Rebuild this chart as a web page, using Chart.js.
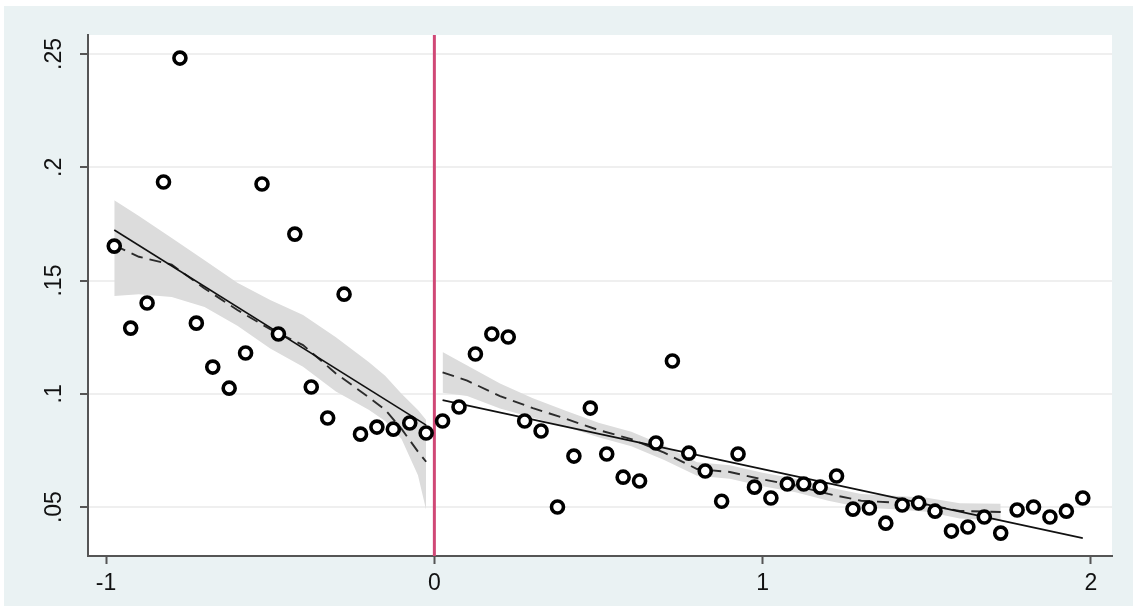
<!DOCTYPE html>
<html>
<head>
<meta charset="utf-8">
<script src="https://cdn.jsdelivr.net/npm/chart.js@4/dist/chart.umd.min.js"></script>
<style>
  html, body { margin: 0; padding: 0; background: #fff; }
  #wrap { position: absolute; left: 4px; top: 6px; width: 1129px; height: 600px; }
</style>
</head>
<body>
<div id="wrap"><canvas id="chart" width="1129" height="600"></canvas></div>
<script>
// bin centres and bin means, left of the cutoff
const leftX = [-0.975, -0.925, -0.875, -0.825, -0.775, -0.725, -0.675, -0.625, -0.575, -0.525,
               -0.475, -0.425, -0.375, -0.325, -0.275, -0.225, -0.175, -0.125, -0.075, -0.025]
const leftY = [0.1652, 0.1290, 0.1401, 0.1935, 0.2482, 0.1312, 0.1118, 0.1025, 0.1180, 0.1926,
               0.1264, 0.1705, 0.1030, 0.0893, 0.1440, 0.0822, 0.0853, 0.0844, 0.0871, 0.0827]

// right of the cutoff
const rightX = [0.025, 0.075, 0.125, 0.175, 0.225, 0.275, 0.325, 0.375, 0.425, 0.475,
                0.525, 0.575, 0.625, 0.675, 0.725, 0.775, 0.825, 0.875, 0.925, 0.975,
                1.025, 1.075, 1.125, 1.175, 1.225, 1.275, 1.325, 1.375, 1.425, 1.475,
                1.525, 1.575, 1.625, 1.675, 1.725, 1.775, 1.825, 1.875, 1.925, 1.975]
const rightY = [0.0880, 0.0942, 0.1176, 0.1264, 0.1251, 0.0880, 0.0836, 0.0500, 0.0725, 0.0937,
                0.0734, 0.0632, 0.0615, 0.0783, 0.1145, 0.0738, 0.0659, 0.0526, 0.0734, 0.0588,
                0.0540, 0.0602, 0.0602, 0.0588, 0.0637, 0.0491, 0.0496, 0.0429, 0.0509, 0.0518,
                0.0482, 0.0394, 0.0412, 0.0456, 0.0385, 0.0487, 0.0500, 0.0456, 0.0482, 0.0540]

// linear fits (end points)
const fitLeftX = [-0.975, -0.025]
const fitLeftY = [0.1723, 0.0862]
const fitRightX = [0.025, 1.975]
const fitRightY = [0.0972, 0.0363]

// local polynomial + CI, left
const lpLeftX = [-0.975, -0.9, -0.8, -0.7, -0.6, -0.5, -0.4, -0.3, -0.2, -0.15, -0.1, -0.05, -0.025]
const lpLeftY = [0.1655, 0.1605, 0.1570, 0.1465, 0.1370, 0.1285, 0.1215, 0.1090, 0.0985, 0.0930, 0.0845, 0.0745, 0.0700]
const ciLeftHi = [0.1855, 0.1785, 0.1688, 0.1590, 0.1490, 0.1414, 0.1348, 0.1250, 0.1140, 0.1080, 0.1000, 0.0928, 0.0884]
const ciLeftLo = [0.1432, 0.1440, 0.1427, 0.1383, 0.1300, 0.1200, 0.1120, 0.1010, 0.0930, 0.0880, 0.0800, 0.0640, 0.0487]

// local polynomial + CI, right
const lpRightX = [0.025, 0.1, 0.2, 0.3, 0.4, 0.5, 0.6, 0.7, 0.8, 0.9, 1.0, 1.1, 1.2, 1.3, 1.4, 1.5, 1.6, 1.725]
const lpRightY = [0.1095, 0.1058, 0.0990, 0.0937, 0.0890, 0.0840, 0.0800, 0.0740, 0.0668, 0.0655, 0.0622, 0.0595, 0.0558, 0.0528, 0.0520, 0.0510, 0.0483, 0.0478]
const ciRightHi = [0.1185, 0.1125, 0.1045, 0.0980, 0.0925, 0.0872, 0.0832, 0.0772, 0.0698, 0.0685, 0.0652, 0.0625, 0.0588, 0.0558, 0.0550, 0.0541, 0.0517, 0.0515]
const ciRightLo = [0.1005, 0.0990, 0.0935, 0.0894, 0.0855, 0.0808, 0.0768, 0.0708, 0.0638, 0.0625, 0.0592, 0.0565, 0.0528, 0.0498, 0.0490, 0.0479, 0.0449, 0.0441]

const xTicks = [-1, 0, 1, 2]
const yTicks = [0.05, 0.1, 0.15, 0.2, 0.25]
const cutoff = 0

const pts = (xs, ys) => xs.map((x, i) => ({x: x, y: ys[i]}))

const axisColor = '#555'
const font = {family: "'Liberation Sans', Arial, sans-serif", size: 23}

function band(xs, hi, lo){
    return [
        {type: 'line', data: pts(xs, hi), showLine: true, borderWidth: 0, pointRadius: 0,
         backgroundColor: '#dcdcdc', fill: '+1', order: 5},
        {type: 'line', data: pts(xs, lo), showLine: true, borderWidth: 0, pointRadius: 0,
         backgroundColor: '#dcdcdc', fill: false, order: 5}
    ]
}
function lpoly(xs, ys){
    return {type: 'line', data: pts(xs, ys), showLine: true, borderColor: '#2b2b2b', borderWidth: 1.9,
            borderDash: [12, 7], pointRadius: 0, fill: false, order: 3}
}
function lfit(xs, ys){
    return {type: 'line', data: pts(xs, ys), showLine: true, borderColor: '#111', borderWidth: 1.6,
            pointRadius: 0, fill: false, order: 2}
}
function scat(xs, ys){
    return {type: 'scatter', data: pts(xs, ys), pointRadius: 6, pointBorderWidth: 3.6,
            pointBorderColor: '#000', pointBackgroundColor: '#fff', order: 1}
}

// bluish outer region + white plot region
const bgPlugin = {
    id: 'bg',
    beforeDraw(chart){
        const c = chart.ctx, a = chart.chartArea
        c.save()
        c.fillStyle = '#eaf2f3'
        c.fillRect(0, 0, chart.width, chart.height)
        c.fillStyle = '#fff'
        c.fillRect(a.left, a.top, a.right - a.left, a.bottom - a.top)
        c.restore()
    }
}

// vertical line at the cutoff
const cutoffPlugin = {
    id: 'cutoff',
    beforeDatasetsDraw(chart){
        const c = chart.ctx, a = chart.chartArea
        const px = chart.scales.x.getPixelForValue(cutoff)
        c.save()
        c.strokeStyle = '#d04876'
        c.lineWidth = 3
        c.beginPath()
        c.moveTo(px, a.top)
        c.lineTo(px, a.bottom)
        c.stroke()
        c.restore()
    }
}

const config = {
    type: 'scatter',
    data: {
        datasets: [
            scat(leftX, leftY),
            scat(rightX, rightY),
            lfit(fitLeftX, fitLeftY),
            lfit(fitRightX, fitRightY),
            lpoly(lpLeftX, lpLeftY),
            lpoly(lpRightX, lpRightY),
            ...band(lpLeftX, ciLeftHi, ciLeftLo),
            ...band(lpRightX, ciRightHi, ciRightLo)
        ]
    },
    options: {
        responsive: false,
        animation: false,
        layout: {padding: {top: 29, right: 21, left: 0, bottom: 0}},
        plugins: {legend: {display: false}, tooltip: {enabled: false}},
        scales: {
            x: {
                type: 'linear', min: -1.055, max: 2.064,
                afterBuildTicks: s => { s.ticks = xTicks.map(v => ({value: v})) },
                afterFit: s => { s.height = 50 },
                border: {color: axisColor, width: 2},
                grid: {drawOnChartArea: false, tickColor: axisColor, tickLength: 8, tickWidth: 2},
                ticks: {font: font, color: '#111', padding: 6, maxRotation: 0, autoSkip: false,
                        callback: v => String(v)}
            },
            y: {
                type: 'linear', min: 0.0284, max: 0.2584,
                afterBuildTicks: s => { s.ticks = yTicks.map(v => ({value: v})) },
                afterFit: s => { s.width = 84 },
                border: {color: axisColor, width: 2},
                grid: {color: '#efefef', lineWidth: 2, tickColor: axisColor, tickLength: 8, tickWidth: 2},
                ticks: {font: font, color: '#111', padding: 9, minRotation: 90, maxRotation: 90,
                        crossAlign: 'center', autoSkip: false,
                        callback: v => String(v).replace(/^0/, '')}
            }
        }
    },
    plugins: [bgPlugin, cutoffPlugin]
}

let chartX = new Chart(document.querySelector('#chart'), config)
</script>
</body>
</html>
